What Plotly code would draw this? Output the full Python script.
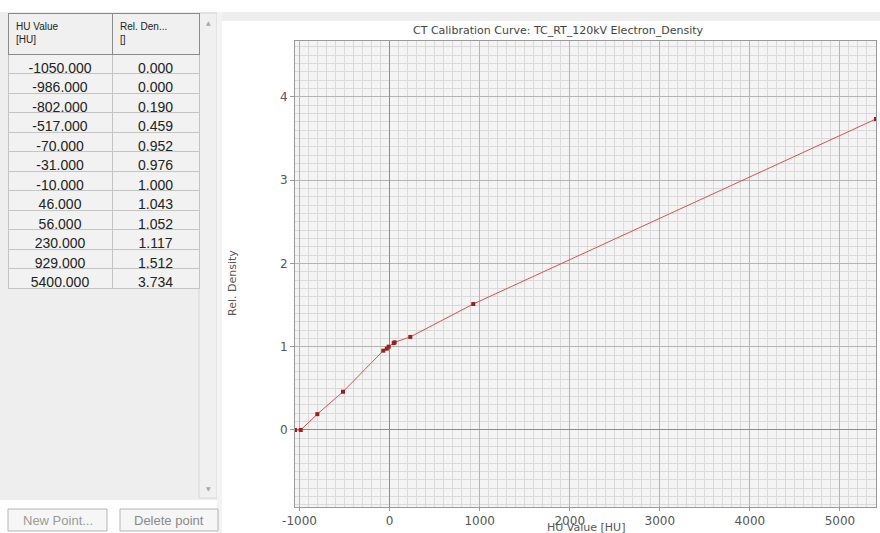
import plotly.graph_objects as go

W, H = 880, 533

hu_values = [-1050, -986, -802, -517, -70, -31, -10, 46, 56, 230, 929, 5400]
rel_density = [0.000, 0.000, 0.190, 0.459, 0.952, 0.976, 1.000, 1.043, 1.052, 1.117, 1.512, 3.734]
x_ticks = [-1000, 0, 1000, 2000, 3000, 4000, 5000]
y_ticks = [0, 1, 2, 3, 4]
table_headers = ["HU Value<br>[HU]", "Rel. Den...<br>[]"]
title_text = "CT Calibration Curve: TC_RT_120kV Electron_Density"


def px(x):
    return x / W


def py(y):
    return 1 - y / H


fig = go.Figure()

# table of calibration points
fig.add_trace(go.Table(
    domain=dict(x=[px(8), px(199)], y=[py(498), py(13)]),
    columnwidth=[104, 87],
    header=dict(
        values=table_headers,
        align="left",
        height=41,
        fill_color="#f0f0f0",
        line_color="#8a8a8a",
        font=dict(family="Liberation Sans, Arial", size=10, color="#222"),
    ),
    cells=dict(
        values=[[f"{v:.3f}" for v in hu_values], [f"{v:.3f}" for v in rel_density]],
        align="center",
        height=19.5,
        fill_color="#f2f2f2",
        line_color="#c4c4c4",
        font=dict(family="Liberation Sans, Arial", size=14, color="#222"),
    ),
))

# calibration curve
fig.add_trace(go.Scatter(
    x=hu_values, y=rel_density,
    mode="lines+markers",
    line=dict(color="#e0504a", width=1),
    marker=dict(symbol="square", size=4, color="#9c1f1f"),
    showlegend=False,
    hoverinfo="x+y",
))

shapes = []
# left panel background
shapes.append(dict(type="rect", xref="paper", yref="paper", layer="below",
                   x0=0, x1=px(218), y0=py(500), y1=py(12),
                   fillcolor="#eeeeee", line=dict(width=0)))
# scrollbar
shapes.append(dict(type="rect", xref="paper", yref="paper", layer="below",
                   x0=px(199), x1=px(217), y0=py(498), y1=py(13),
                   fillcolor="#f0f0f0", line=dict(color="#d6d6d6", width=1)))
# chart panel top strip
shapes.append(dict(type="rect", xref="paper", yref="paper", layer="below",
                   x0=px(218), x1=1, y0=py(21), y1=py(12),
                   fillcolor="#eeeeee", line=dict(width=0)))
shapes.append(dict(type="rect", xref="paper", yref="paper", layer="below",
                   x0=px(217), x1=px(222), y0=py(533), y1=py(12),
                   fillcolor="#f3f3f3", line=dict(width=0)))
# buttons
for bx0, bx1 in [(8, 107), (120, 218)]:
    shapes.append(dict(type="rect", xref="paper", yref="paper",
                       x0=px(bx0), x1=px(bx1), y0=py(531), y1=py(509),
                       fillcolor="#f6f6f6", line=dict(color="#b4b4b4", width=1)))


def note(text, x, y, size, color, family="DejaVu Sans", angle=0):
    return dict(text=text, xref="paper", yref="paper", x=px(x), y=py(y),
                xanchor="center", yanchor="middle", textangle=angle,
                showarrow=False, font=dict(family=family, size=size, color=color))


annotations = [
    note(title_text, 558, 30, 11, "#444"),
    note("Rel. Density", 232, 283, 11, "#555", angle=-90),
    note("HU Value [HU]", 586, 527, 11, "#555"),
    note("New Point...", 57.5, 520, 13, "#9a9a9a", family="Liberation Sans, Arial"),
    note("Delete point", 169, 520, 13, "#8a8a8a", family="Liberation Sans, Arial"),
    note("▲", 208, 23, 6, "#a8a8a8"),
    note("▼", 208, 488, 6, "#a8a8a8"),
]

fig.update_layout(
    width=W, height=H,
    margin=dict(l=0, r=0, t=0, b=0, pad=0, autoexpand=False),
    paper_bgcolor="white",
    plot_bgcolor="#f4f4f4",
    shapes=shapes,
    annotations=annotations,
    showlegend=False,
    xaxis=dict(
        domain=[px(295), px(876)],
        range=[-1050, 5400],
        automargin=False,
        tickvals=x_ticks,
        ticktext=[str(t) for t in x_ticks],
        showgrid=True, gridcolor="#b4b4b4", gridwidth=1,
        minor=dict(dtick=100, tick0=0, showgrid=True, gridcolor="#dadada", gridwidth=1),
        zeroline=True, zerolinecolor="#8c8c8c", zerolinewidth=1,
        showline=True, linecolor="#9a9a9a", mirror=True,
        ticks="outside", ticklen=3, tickcolor="#9a9a9a",
        tickfont=dict(family="DejaVu Sans", size=12, color="#555"),
    ),
    yaxis=dict(
        domain=[py(507), py(41)],
        range=[-0.925, 4.67],
        automargin=False,
        tickvals=y_ticks,
        ticktext=[str(t) for t in y_ticks],
        showgrid=True, gridcolor="#b4b4b4", gridwidth=1,
        minor=dict(dtick=0.1, tick0=0, showgrid=True, gridcolor="#dadada", gridwidth=1),
        zeroline=True, zerolinecolor="#8c8c8c", zerolinewidth=1,
        showline=True, linecolor="#9a9a9a", mirror=True,
        ticks="outside", ticklen=4, tickcolor="#9a9a9a",
        tickfont=dict(family="DejaVu Sans", size=12, color="#555"),
    ),
)

fig.write_html(
    "out.html",
    config={"displayModeBar": False},
    post_script="document.body.style.margin='0';document.body.style.overflow='hidden';",
)
